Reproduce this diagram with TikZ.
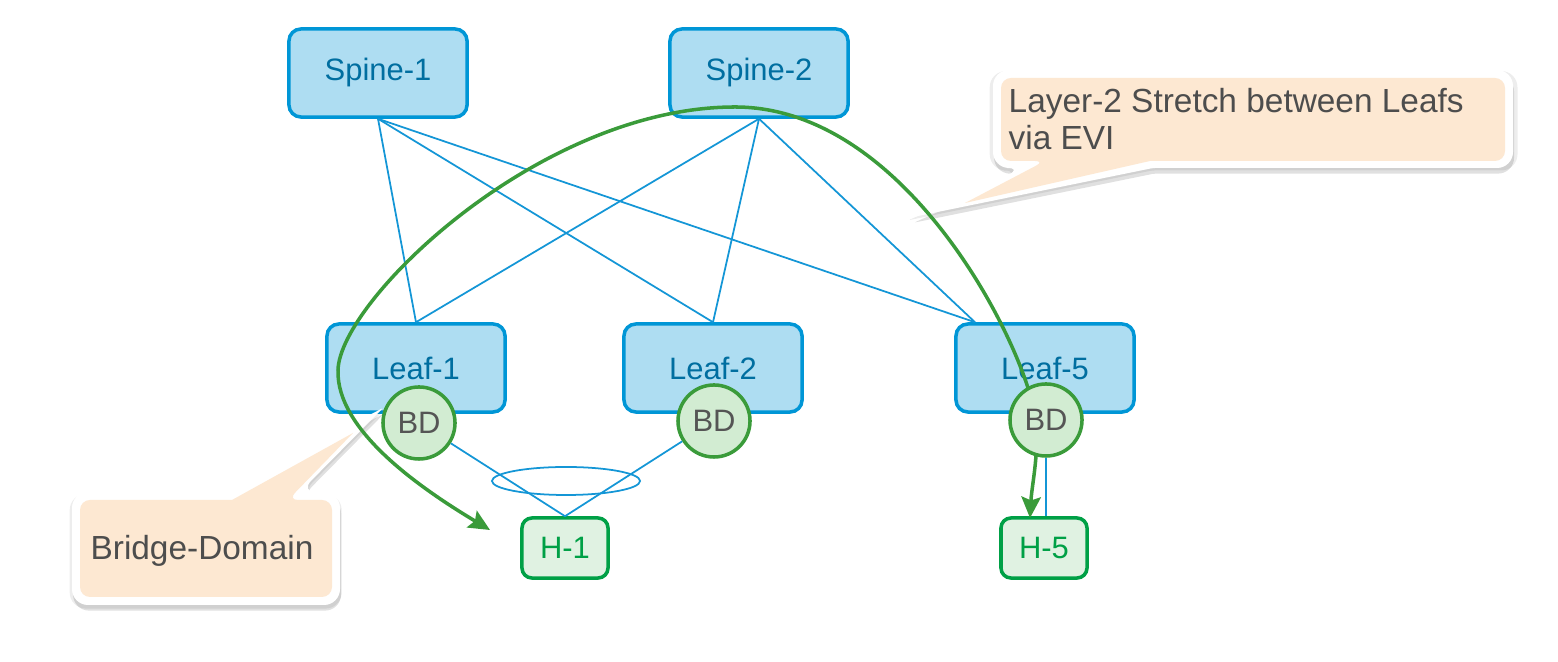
\documentclass[tikz,border=0pt]{standalone}
\usepackage{fontspec}
\setmainfont{Liberation Sans}
\usetikzlibrary{arrows.meta,shadows}

\definecolor{boxfill}{HTML}{AEDDF2}
\definecolor{boxline}{HTML}{0096D6}
\definecolor{boxtext}{HTML}{006EA0}
\definecolor{bdfill}{HTML}{D2ECD2}
\definecolor{bdline}{HTML}{3A9B3A}
\definecolor{bdtext}{HTML}{555555}
\definecolor{hostfill}{HTML}{E0F2E2}
\definecolor{hostline}{HTML}{00A046}
\definecolor{linkblue}{HTML}{1496D6}
\definecolor{peach}{HTML}{FDE8D2}
\definecolor{notetext}{HTML}{4D4D4D}
\definecolor{evigreen}{HTML}{3A9B3A}

\begin{document}
\begin{tikzpicture}[x=0.01cm, y=-0.01cm,
	every node/.style={font=\fontsize{8.8}{10}\selectfont},
	switch/.style={draw=boxline, fill=boxfill, text=boxtext, line width=1pt, rounded corners=0.12cm, minimum width=1.78cm, minimum height=0.88cm},
	bd/.style={draw=bdline, fill=bdfill, text=bdtext, circle, line width=1pt, minimum size=0.72cm, inner sep=0pt},
	host/.style={draw=hostline, fill=hostfill, text=hostline, line width=1pt, rounded corners=0.1cm, minimum width=0.86cm, minimum height=0.6cm},
	link/.style={draw=linkblue, line width=0.5pt},
	note/.style={text=notetext, font=\fontsize{9.5}{10.6}\selectfont, align=left, inner sep=0pt},
	bubble/.style={fill=white,
		general shadow={fill=black, opacity=0.07, shadow yshift=-0.6pt, shadow scale=1.015},
		general shadow={fill=black, opacity=0.12, shadow yshift=-1.6pt, shadow xshift=0.3pt}},
	evi/.style={draw=evigreen, line width=1pt, arrows={Stealth[length=6pt,width=5.5pt,inset=1pt]-Stealth[length=6pt,width=5.5pt,inset=1pt]}}]
	\useasboundingbox (0,0) rectangle (1558,662);

	\node[switch]	(spine1)	at (378,73)		{Spine-1};
	\node[switch]	(spine2)	at (759,73)		{Spine-2};
	\node[switch]	(leaf1)		at (416,368)	{Leaf-1};
	\node[switch]	(leaf2)		at (713,368)	{Leaf-2};
	\node[switch]	(leaf5)		at (1045,368)	{Leaf-5};
	\node[host]		(h1)		at (565,548)	{H-1};
	\node[host]		(h5)		at (1044,548)	{H-5};
	\coordinate		(leaf5in)	at ([xshift=-0.7cm]leaf5.north);

	\path[link]
	(spine1.south)	edge	(leaf1.north)
					edge	(leaf2.north)
					edge	(leaf5in)
	(spine2.south)	edge	(leaf1.north)
					edge	(leaf2.north)
					edge	(leaf5in);

	% callouts
	\fill[bubble] (993,120) [rounded corners=0.16cm] -- (993,168) -- (1023,168) [rounded corners=0.02cm] -- (913,217) -- (1153,168) [rounded corners=0.16cm] -- (1513,168) -- (1513,70) -- (993,70) -- cycle;
	\fill[peach] (1001,120) [rounded corners=0.1cm] -- (1001,161) -- (1045,161) [sharp corners] -- (965,203) -- (1150,161) [rounded corners=0.1cm] -- (1505,161) -- (1505,78) -- (1001,78) -- cycle;
	\node[note, anchor=west]	(evinote)	at (1008,119)	{Layer-2 Stretch between Leafs\\via EVI};

	\fill[bubble] (72,550) [rounded corners=0.16cm] -- (72,605) -- (340,605) -- (340,492) -- (300,492) [rounded corners=0.02cm] -- (383,408) -- (222,492) [rounded corners=0.16cm] -- (72,492) -- cycle;
	\fill[peach] (80,550) [rounded corners=0.1cm] -- (80,597) -- (332,597) -- (332,500) -- (288,500) [sharp corners] -- (353,433) -- (232,500) [rounded corners=0.1cm] -- (80,500) -- cycle;
	\node[note]	(bdnote)	at (202,551)	{Bridge-Domain};

	% EVI stretch
	\coordinate	(h1end)	at (490,530);
	\coordinate	(h5end)	at (1030,518);
	\draw[evi] (h1end) .. controls (420,488) and (336,430) .. (338,370)
		.. controls (340,300) and (540,107) .. (735,107)
		.. controls (890,107) and (1000,300) .. (1028,388)
		.. controls (1045,430) and (1032,480) .. (h5end);

	\node[bd]	(bd1)	at (419,423)	{BD};
	\node[bd]	(bd2)	at (714,421)	{BD};
	\node[bd]	(bd5)	at (1046,420)	{BD};

	\path[link]
	(bd1)	edge	(h1.north)
	(bd2)	edge	(h1.north)
	(bd5)	edge	(bd5 |- h5.north);
	\draw[link] (566,481) ellipse [x radius=0.74cm, y radius=0.14cm];
\end{tikzpicture}
\end{document}
